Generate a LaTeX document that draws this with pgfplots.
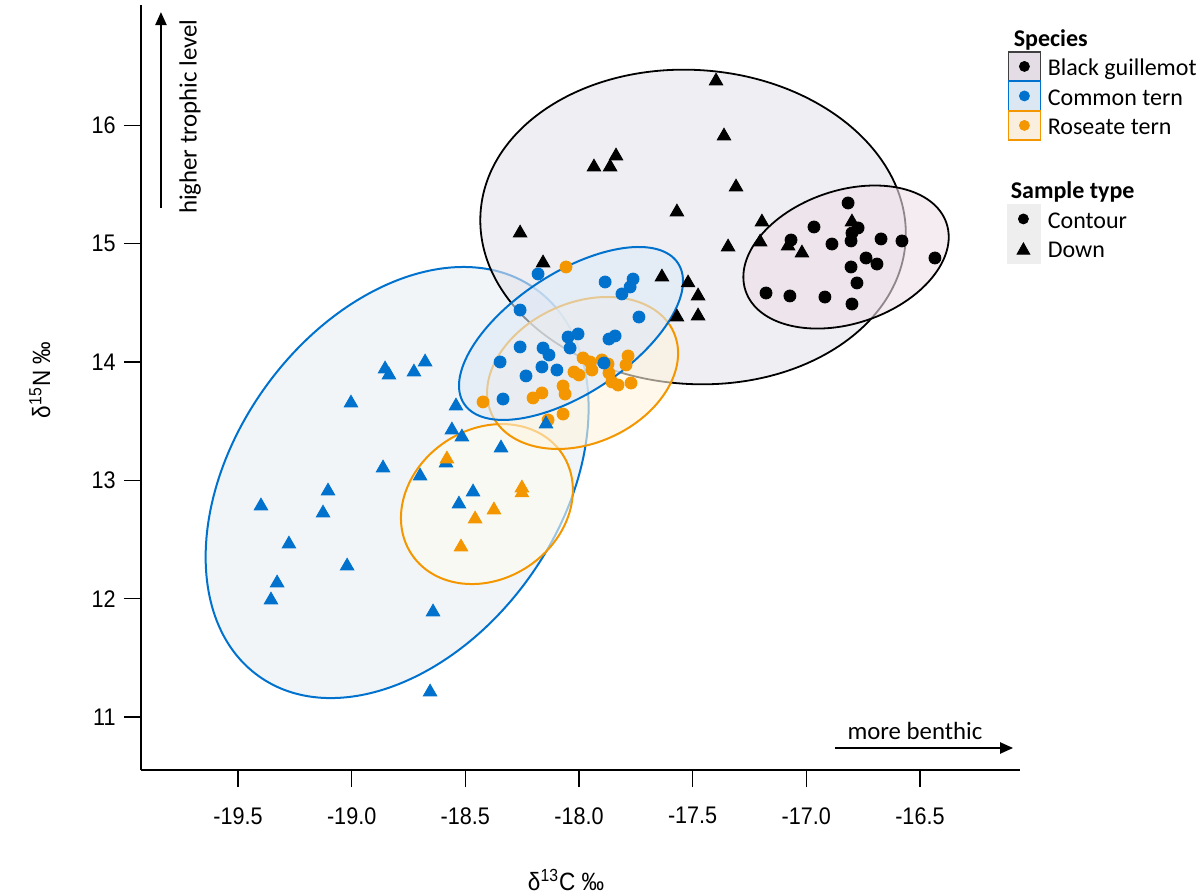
\documentclass[border=0pt]{standalone}
\usepackage{pgfplots}
\pgfplotsset{compat=1.18}
\usepackage{fontspec}
\setmainfont{Carlito}
\newfontfamily\arialn[FakeStretch=0.9]{Liberation Sans}
\usetikzlibrary{arrows.meta}
\definecolor{cblue}{RGB}{0,114,206}
\definecolor{corange}{RGB}{243,150,0}
\definecolor{fEa}{RGB}{228,227,235}
\definecolor{fEb}{RGB}{238,224,231}
\definecolor{fEc}{RGB}{232,239,244}
\definecolor{fEd}{RGB}{222,234,247}
\definecolor{fEe}{RGB}{255,244,222}
\definecolor{fEf}{RGB}{255,252,240}
\definecolor{lgBG}{RGB}{229,221,230}
\definecolor{lgCT}{RGB}{219,231,242}
\definecolor{lgRT}{RGB}{250,238,222}
\definecolor{lgST}{RGB}{238,238,238}
\begin{document}
\begin{tikzpicture}
\useasboundingbox (0,0) rectangle (601pt,447pt);
\begin{axis}[
  at={(70.5pt,62pt)}, anchor=south west,
  scale only axis, width=439.5pt, height=382.5pt,
  xmin=-19.9268, xmax=-16.0596, ymin=10.552, ymax=17.0186,
  axis x line*=bottom, axis y line*=left,
  axis line style={-, line width=0.8pt, black},
  xtick={-19.5,-19,-18.5,-18,-17.5,-17,-16.5},
  xticklabels={-19.5,-19.0,-18.5,-18.0,-17.5,-17.0,-16.5},
  ytick={11,12,13,14,15,16},
  yticklabels={11,12,13,14,15,16},
  tick align=outside, major tick length=8.5pt,
  tick style={black, line width=0.6pt},
  /pgf/number format/assume math mode=true,
  ticklabel style={font=\arialn\fontsize{12}{14}\selectfont, inner sep=0pt},
  xticklabel style={anchor=north, yshift=-10pt},
  yticklabel style={anchor=east, xshift=-4pt},
  clip=false,
  xlabel={\arialn\fontsize{12.5}{14}\selectfont δ\textsuperscript{13}C ‰},
  ylabel={\arialn\fontsize{12.5}{14}\selectfont δ\textsuperscript{15}N ‰},
  xlabel style={at={(axis description cs:0.4835,-0.1569)}, anchor=base, inner sep=0pt},
  ylabel style={at={(axis description cs:-0.1035,0.5098)}, anchor=base, inner sep=0pt},
  legend style={
    at={(axis description cs:0.98635,0.97124)}, anchor=north west,
    draw=none, fill=none, inner sep=0pt, outer sep=0pt,
    column sep=3.5pt, row sep=0pt,
    font=\fontsize{12}{13}\selectfont,
    nodes={inner sep=0pt, text height=9.75pt, text depth=5pt},
  },
  legend cell align=left,
]
% legend
\addlegendimage{empty legend}
\addlegendentry{\hspace*{-17pt}\textbf{Species}}
\addlegendimage{legend image code/.code={
  \path (0pt,0pt) -- (16pt,0pt);
  \draw[overlay, draw=black!75, fill=lgBG, line width=0.8pt] (0pt,-5pt) rectangle (16pt,9.75pt);
  \fill[overlay, black] (8pt,2.4pt) circle (2.5pt);}}
\addlegendentry{Black guillemot}
\addlegendimage{legend image code/.code={
  \path (0pt,0pt) -- (16pt,0pt);
  \draw[overlay, draw=cblue, fill=lgCT, line width=0.8pt] (0pt,-5pt) rectangle (16pt,9.75pt);
  \fill[overlay, cblue] (8pt,2.4pt) circle (2.5pt);}}
\addlegendentry{Common tern}
\addlegendimage{legend image code/.code={
  \path (0pt,0pt) -- (16pt,0pt);
  \draw[overlay, draw=corange, fill=lgRT, line width=0.8pt] (0pt,-5pt) rectangle (16pt,9.75pt);
  \fill[overlay, corange] (8pt,2.4pt) circle (2.5pt);}}
\addlegendentry{Roseate tern}
\addlegendimage{empty legend}
\addlegendentry[text height=12.25pt]{}
\addlegendimage{empty legend}
\addlegendentry{\hspace*{-18.5pt}\textbf{Sample type}}
\addlegendimage{legend image code/.code={
  \path (0pt,0pt) -- (16pt,0pt);
  \fill[overlay, lgST] (-0.5pt,-5pt) rectangle (16pt,9.75pt);
  \fill[overlay, black] (7.5pt,2.4pt) circle (2.5pt);}}
\addlegendentry{Contour}
\addlegendimage{legend image code/.code={
  \path (0pt,0pt) -- (16pt,0pt);
  \fill[overlay, lgST] (-0.5pt,-5pt) rectangle (16pt,9.75pt);
  \fill[overlay, black] (4.3pt,-0.5pt) -- (10.7pt,-0.5pt) -- (7.5pt,5.2pt) -- cycle;}}
\addlegendentry{Down}

% ellipses (blue down, orange down, black down, orange contour, black contour, blue contour)
\draw[draw=cblue, fill=fEc, fill opacity=0.6, line width=1pt, rotate around={54.45:(axis cs:-18.800,12.982)}]
  (axis cs:-18.800,12.982) ellipse [x radius=119pt, y radius=81.35pt];
\draw[draw=corange, fill=fEf, fill opacity=0.6, line width=1pt, rotate around={33.8:(axis cs:-18.405,12.80)}]
  (axis cs:-18.405,12.80) ellipse [x radius=45.25pt, y radius=37.4pt];
\draw[draw=black, fill=fEa, fill opacity=0.6, line width=0.9pt, rotate around={-4:(axis cs:-17.498,15.142)}]
  (axis cs:-17.498,15.142) ellipse [x radius=106.5pt, y radius=78.5pt];
\draw[draw=corange, fill=fEe, fill opacity=0.6, line width=1pt, rotate around={24.2:(axis cs:-17.984,13.908)}]
  (axis cs:-17.984,13.908) ellipse [x radius=49.9pt, y radius=35.1pt];
\draw[draw=black, fill=fEb, fill opacity=0.6, line width=0.9pt, rotate around={18.6:(axis cs:-16.825,14.888)}]
  (axis cs:-16.825,14.888) ellipse [x radius=53pt, y radius=33.25pt];
\draw[draw=cblue, fill=fEd, fill opacity=0.6, line width=1pt, rotate around={33.3:(axis cs:-18.035,14.242)}]
  (axis cs:-18.035,14.242) ellipse [x radius=64pt, y radius=30.15pt];

% annotations
\node[rotate=90, font=\fontsize{12.4}{13}\selectfont, inner sep=0pt] at (axis cs:-19.711,16.075) {higher trophic level};
\draw[-{Triangle[length=6.5pt,width=5.5pt]}, line width=1.1pt] (axis cs:-19.839,15.303) -- (axis cs:-19.839,16.959);
\node[font=\fontsize{12.4}{13}\selectfont, inner sep=0pt] at (axis cs:-16.522,10.882) {more benthic};
\draw[-{Triangle[length=6.5pt,width=5.5pt]}, line width=1.1pt] (axis cs:-16.874,10.738) -- (axis cs:-16.090,10.738);

% Black guillemot, Down
\addplot[only marks, forget plot, color=black, mark=triangle*, mark size=3.9pt, mark options={solid, line width=0.4pt}] coordinates {
(-17.397,16.376) (-17.362,15.911) (-17.837,15.742) (-17.934,15.649) (-17.863,15.649) (-17.309,15.480) (-17.569,15.269) (-18.259,15.091) (-17.195,15.184) (-17.344,14.973) (-17.203,15.015) (-17.080,14.981) (-17.019,14.922) (-16.799,15.184) (-18.158,14.838) (-17.635,14.719) (-17.520,14.669) (-17.476,14.559) (-17.569,14.381) (-17.476,14.390)
};
% Black guillemot, Contour
\addplot[only marks, forget plot, color=black, mark=*, mark size=3.0pt, mark options={solid, line width=0.4pt}] coordinates {
(-16.816,15.345) (-16.966,15.142) (-16.772,15.134) (-16.799,15.091) (-17.067,15.032) (-16.887,14.998) (-16.803,15.024) (-16.671,15.041) (-16.579,15.024) (-16.737,14.880) (-16.689,14.829) (-16.803,14.804) (-16.434,14.880) (-16.777,14.669) (-17.177,14.584) (-17.072,14.559) (-16.918,14.550) (-16.799,14.491)
};
% Roseate tern, Contour
\addplot[only marks, forget plot, color=corange, mark=*, mark size=3.0pt, mark options={solid, line width=0.4pt}] coordinates {
(-18.057,14.804) (-17.982,14.035) (-17.951,14.001) (-17.899,14.018) (-17.872,13.984) (-17.784,14.052) (-17.793,13.976) (-18.022,13.916) (-18.000,13.891) (-17.943,13.933) (-17.868,13.908) (-17.855,13.832) (-17.828,13.806) (-17.771,13.823) (-18.070,13.798) (-18.061,13.730) (-18.163,13.739) (-18.202,13.697) (-18.422,13.663) (-18.070,13.561) (-18.136,13.511)
};
% Common tern, Contour
\addplot[only marks, forget plot, color=cblue, mark=*, mark size=3.0pt, mark options={solid, line width=0.4pt}] coordinates {
(-18.180,14.745) (-17.885,14.677) (-17.762,14.702) (-17.775,14.635) (-17.811,14.576) (-18.259,14.440) (-17.736,14.381) (-18.048,14.212) (-18.004,14.238) (-18.039,14.119) (-17.841,14.221) (-17.868,14.195) (-18.259,14.128) (-18.158,14.119) (-18.132,14.060) (-18.347,14.001) (-18.163,13.959) (-18.097,13.933) (-18.233,13.883) (-17.890,13.992) (-18.334,13.688)
};
% Common tern, Down
\addplot[only marks, forget plot, color=cblue, mark=triangle*, mark size=3.9pt, mark options={solid, line width=0.4pt}] coordinates {
(-18.853,13.942) (-18.836,13.891) (-18.726,13.916) (-18.677,14.001) (-19.003,13.654) (-18.541,13.629) (-18.559,13.426) (-18.515,13.367) (-18.343,13.274) (-18.585,13.147) (-18.862,13.105) (-18.699,13.037) (-18.466,12.902) (-18.528,12.800) (-19.104,12.910) (-19.399,12.784) (-19.126,12.724) (-19.276,12.462) (-19.020,12.276) (-19.328,12.133) (-19.355,11.989) (-18.642,11.888) (-18.655,11.211) (-18.145,13.477)
};
% Roseate tern, Down
\addplot[only marks, forget plot, color=corange, mark=triangle*, mark size=3.9pt, mark options={solid, line width=0.4pt}] coordinates {
(-18.581,13.181) (-18.251,12.936) (-18.251,12.894) (-18.374,12.750) (-18.457,12.674) (-18.519,12.437)
};
\end{axis}
\end{tikzpicture}
\end{document}
